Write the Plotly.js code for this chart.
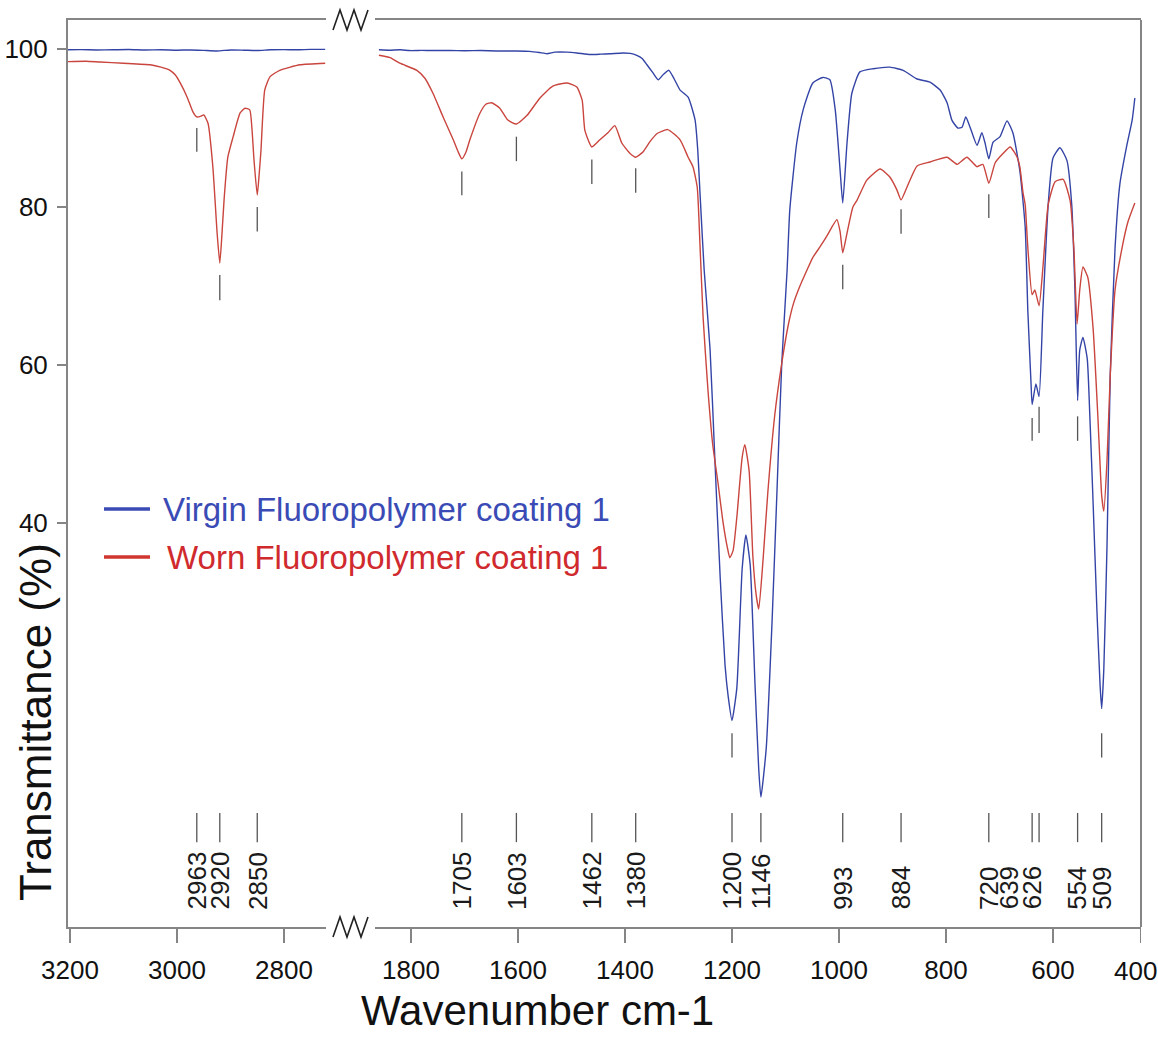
<!DOCTYPE html>
<html>
<head>
<meta charset="utf-8">
<script src="https://cdn.plot.ly/plotly-3.0.1.min.js"></script>
<style>
  html, body { margin: 0; padding: 0; background: #fff; }
  #chart { width: 1158px; height: 1043px; }
</style>
</head>
<body>
<div id="chart"></div>
<script>
// ---------------- DATA ----------------
// Left segment (3200 - 2720 cm-1)
const virginLeftWn = [3204, 3180, 3150, 3120, 3090, 3060, 3030, 3000, 2975, 2950, 2925, 2900, 2875, 2850, 2825, 2800, 2775, 2750, 2723];
const virginLeftT  = [99.9, 99.92, 99.88, 99.9, 99.93, 99.87, 99.9, 99.85, 99.88, 99.82, 99.75, 99.88, 99.85, 99.8, 99.9, 99.92, 99.9, 99.95, 99.95];

const wornLeftWn = [3204, 3170, 3144, 3100, 3050, 3030, 3013, 3003, 2994, 2981, 2970, 2963, 2955, 2950, 2942, 2933, 2925, 2920, 2916, 2912, 2905, 2895, 2882, 2873, 2864, 2860, 2856, 2850, 2846, 2843, 2836, 2826, 2808, 2770, 2723];
const wornLeftT  = [98.4, 98.45, 98.35, 98.2, 98.0, 97.7, 97.3, 96.7, 95.7, 93.9, 92.0, 91.4, 91.5, 91.65, 90.6, 85.1, 76.7, 72.9, 76.5, 80.9, 86.3, 88.9, 91.9, 92.5, 92.3, 90.0, 85.9, 81.5, 84.5, 87.2, 94.8, 96.5, 97.3, 98.0, 98.2];

// Right segment (1860 - 447 cm-1)
const virginRightWn = [1860, 1840, 1820, 1802, 1780, 1760, 1727, 1700, 1670, 1640, 1602, 1578, 1560, 1546, 1531, 1508, 1490, 1465, 1445, 1428, 1404, 1390, 1378, 1368, 1359, 1348, 1338, 1328, 1318, 1308, 1297, 1282, 1269, 1264, 1260, 1252, 1241, 1232, 1222, 1213, 1207, 1200, 1191, 1181, 1174, 1166, 1157, 1150, 1146, 1136, 1125, 1116, 1107, 1097, 1092, 1079, 1067, 1049, 1030, 1017, 1007, 998, 993, 985, 976, 961, 936, 905, 880, 854, 830, 811, 798, 789, 778, 770, 763, 755, 742, 733, 727, 720, 712, 699, 686, 675, 662, 652, 647, 641, 639, 632, 626, 619, 609, 600, 587, 574, 565, 559, 554, 550, 544, 536, 531, 525, 518, 512, 509, 505, 499, 493, 484, 475, 462, 452, 447];
const virginRightT  = [99.9, 99.85, 99.9, 99.8, 99.82, 99.8, 99.8, 99.78, 99.8, 99.75, 99.75, 99.7, 99.55, 99.4, 99.6, 99.6, 99.5, 99.3, 99.35, 99.4, 99.5, 99.45, 99.2, 98.8, 98.0, 97.0, 96.1, 96.8, 97.3, 96.2, 94.8, 93.9, 91.0, 87.2, 82.0, 72.0, 62.0, 48.0, 33.0, 22.0, 18.0, 15.0, 19.1, 34.2, 38.5, 34.7, 19.6, 8.8, 5.3, 11.5, 27.7, 43.9, 60.2, 72.0, 79.6, 88.1, 92.3, 95.7, 96.4, 96.1, 92.3, 84.7, 80.5, 88.1, 94.4, 97.1, 97.5, 97.7, 97.3, 96.2, 95.8, 94.8, 93.2, 91.0, 90.0, 90.1, 91.4, 90.1, 87.8, 89.4, 88.1, 86.1, 88.2, 88.9, 90.9, 89.4, 84.6, 77.5, 66.8, 57.6, 55.0, 57.6, 56.0, 66.8, 80.3, 86.2, 87.5, 85.9, 80.3, 69.5, 55.5, 61.9, 63.5, 60.8, 53.3, 42.5, 29.1, 19.5, 16.5, 21.5, 37.2, 58.7, 74.8, 82.9, 87.8, 91.0, 93.8];

const wornRightWn = [1860, 1839, 1821, 1789, 1774, 1759, 1740, 1721, 1712, 1705, 1697, 1690, 1671, 1660, 1649, 1634, 1619, 1603, 1583, 1559, 1535, 1508, 1490, 1480, 1475, 1462, 1447, 1432, 1419, 1406, 1391, 1380, 1366, 1353, 1340, 1320, 1297, 1282, 1273, 1265, 1260, 1254, 1245, 1236, 1226, 1217, 1209, 1204, 1198, 1191, 1181, 1176, 1168, 1161, 1155, 1150, 1142, 1133, 1120, 1107, 1095, 1085, 1073, 1060, 1049, 1035, 1022, 1012, 1004, 998, 993, 985, 974, 966, 948, 923, 905, 892, 884, 873, 854, 830, 798, 779, 761, 742, 731, 720, 708, 693, 680, 667, 662, 656, 652, 647, 639, 634, 626, 619, 609, 596, 581, 568, 561, 555, 550, 544, 535, 525, 516, 509, 505, 499, 493, 484, 471, 460, 447];
const wornRightT  = [99.2, 98.9, 98.2, 97.3, 96.3, 94.4, 91.4, 88.5, 87.0, 86.1, 87.0, 88.5, 91.9, 93.0, 93.2, 92.5, 91.0, 90.5, 91.6, 93.8, 95.3, 95.7, 95.2, 93.5, 89.7, 87.6, 88.5, 89.4, 90.3, 88.1, 86.8, 86.3, 87.0, 88.3, 89.3, 89.8, 88.5, 86.3, 85.1, 82.5, 75.5, 66.0, 56.9, 49.9, 45.0, 40.2, 37.0, 35.6, 36.5, 40.7, 48.3, 49.9, 46.6, 35.8, 31.0, 29.1, 35.3, 43.9, 53.7, 60.2, 65.0, 67.8, 70.0, 72.0, 73.6, 75.0, 76.4, 77.6, 78.4, 76.9, 74.2, 76.7, 80.0, 80.9, 83.4, 84.8, 83.8, 82.2, 80.9, 82.5, 85.2, 85.7, 86.3, 85.4, 86.3, 85.1, 85.4, 83.0, 85.6, 86.8, 87.6, 86.3, 85.1, 81.8, 80.3, 74.8, 68.9, 69.5, 67.5, 72.2, 80.3, 83.2, 83.5, 80.8, 74.8, 65.2, 69.5, 72.4, 71.1, 64.6, 53.3, 43.5, 41.5, 47.9, 58.7, 69.5, 74.8, 78.1, 80.5];

// Peak annotations
const peakWn          = [2963, 2920, 2850, 1705, 1603, 1462, 1380, 1200, 1146, 993, 884, 720, 639, 626, 554, 509];
const peakLabels      = ['2963', '2920', '2850', '1705', '1603', '1462', '1380', '1200', '1146', '993', '884', '720', '639', '626', '554', '509'];
const peakMarkTop     = [90.0, 71.4, 80.0, 84.5, 88.9, 86.0, 84.9, 13.4, null, 72.7, 79.7, 81.6, 53.3, 54.7, 53.5, 13.4];
const peakMarkBottom  = [87.0, 68.2, 76.9, 81.5, 85.8, 82.9, 81.8, 10.3, null, 69.6, 76.6, 78.6, 50.4, 51.4, 50.4, 10.3];

// Axis ticks
const leftTickVals  = [3200, 3000, 2800];
const rightTickVals = [1800, 1600, 1400, 1200, 1000, 800, 600, 436];
const rightTickText = ['1800', '1600', '1400', '1200', '1000', '800', '600', ''];
const lastTickLabel = '400';
const yTickVals     = [40, 60, 80, 100];

const seriesNames = ['Virgin Fluoropolymer coating 1', 'Worn Fluoropolymer coating 1'];

// ---------------- STYLE / LAYOUT ----------------
const FONT = 'Liberation Sans, Arial, sans-serif';
const BLUE = '#3444a6';
const RED = '#c9453e';
const AXIS = '#858585';
const MARK = '#555555';
const W = 1158, H = 1043, ML = 68, MR = 17, MT = 20, MB = 116;
const PW = W - ML - MR, PH = H - MT - MB;
const px = x => (x - ML) / PW;            // pixel -> paper x
const py = y => (H - MB - y) / PH;        // pixel -> paper y

const BASE_TOP = 3.3, BASE_BOTTOM = -0.4, LABEL_BASE = -9.2;
const labelShift = { '639': -23, '626': -7 };

function seg(isLeft) { return w => isLeft ? w > 2000 : w < 2000; }

function markerTrace(isLeft) {
  const xs = [], ys = [];
  peakWn.forEach((w, i) => {
    if (!seg(isLeft)(w)) return;
    if (peakMarkTop[i] !== null) { xs.push(w, w, null); ys.push(peakMarkTop[i], peakMarkBottom[i], null); }
    xs.push(w, w, null); ys.push(BASE_TOP, BASE_BOTTOM, null);
  });
  return { x: xs, y: ys, xaxis: isLeft ? 'x' : 'x2', yaxis: 'y', mode: 'lines',
           line: { color: MARK, width: 1.3 }, showlegend: false, hoverinfo: 'skip' };
}

const lineStyle = (c) => ({ color: c, width: 1.4, shape: 'spline', smoothing: 0.5 });

const traces = [
  { x: virginLeftWn, y: virginLeftT, xaxis: 'x', yaxis: 'y', mode: 'lines', line: lineStyle(BLUE), name: seriesNames[0], showlegend: false },
  { x: wornLeftWn, y: wornLeftT, xaxis: 'x', yaxis: 'y', mode: 'lines', line: lineStyle(RED), name: seriesNames[1], showlegend: false },
  { x: virginRightWn, y: virginRightT, xaxis: 'x2', yaxis: 'y', mode: 'lines', line: lineStyle(BLUE), name: seriesNames[0], showlegend: false },
  { x: wornRightWn, y: wornRightT, xaxis: 'x2', yaxis: 'y', mode: 'lines', line: lineStyle(RED), name: seriesNames[1], showlegend: false },
  markerTrace(true),
  markerTrace(false)
];

const annotations = [];
peakWn.forEach((w, i) => {
  annotations.push({
    x: w, y: LABEL_BASE, xref: w > 2000 ? 'x' : 'x2', yref: 'y',
    text: peakLabels[i], textangle: -90, showarrow: false,
    xanchor: 'center', yanchor: 'bottom', xshift: labelShift[peakLabels[i]] || 0,
    font: { family: FONT, size: 26, color: '#1a1a1a' }
  });
});
// last x tick label (placed inside the figure edge as in the original)
annotations.push({ x: px(1135), y: py(971), xref: 'paper', yref: 'paper', text: lastTickLabel,
  showarrow: false, xanchor: 'center', yanchor: 'middle', font: { family: FONT, size: 26, color: '#111' } });
// axis titles
annotations.push({ x: px(537), y: py(1011), xref: 'paper', yref: 'paper', text: 'Wavenumber cm-1', borderpad: 0,
  showarrow: false, xanchor: 'center', yanchor: 'middle', font: { family: FONT, size: 42, color: '#111' } });
annotations.push({ x: px(35), y: py(722), xref: 'paper', yref: 'paper', text: 'Transmittance (%)', textangle: -90,
  showarrow: false, xanchor: 'center', yanchor: 'middle', font: { family: FONT, size: 44, color: '#111' } });
// legend texts
annotations.push({ x: px(161), y: py(510), xref: 'paper', yref: 'paper', text: seriesNames[0],
  showarrow: false, xanchor: 'left', yanchor: 'middle', font: { family: FONT, size: 33, color: '#3a4bb5' } });
annotations.push({ x: px(165), y: py(557), xref: 'paper', yref: 'paper', text: seriesNames[1],
  showarrow: false, xanchor: 'left', yanchor: 'middle', font: { family: FONT, size: 33, color: '#d02a2e' } });

function zig(x0, yc) {
  const pts = [];
  for (let k = 0; k < 6; k++) {
    const x = x0 + k * 7;
    const y = (k % 2 === 0) ? yc + 10 : yc - 10;
    pts.push((k === 0 ? 'M' : 'L') + px(x).toFixed(5) + ',' + py(y).toFixed(5));
  }
  return pts.join(' ');
}

const shapes = [
  { type: 'line', xref: 'paper', yref: 'paper', x0: 1, x1: 1, y0: 0, y1: 1, line: { color: AXIS, width: 2 } },
  { type: 'path', xref: 'paper', yref: 'paper', path: zig(333, 20), line: { color: '#222', width: 1.6 } },
  { type: 'path', xref: 'paper', yref: 'paper', path: zig(333, 927), line: { color: '#222', width: 1.6 } },
  { type: 'line', xref: 'paper', yref: 'paper', x0: px(104), x1: px(150), y0: py(509), y1: py(509), line: { color: '#3a4bb5', width: 3.5 } },
  { type: 'line', xref: 'paper', yref: 'paper', x0: px(104), x1: px(150), y0: py(557), y1: py(557), line: { color: '#d0352f', width: 3.5 } }
];

const xCommon = {
  showline: true, mirror: true, linecolor: AXIS, linewidth: 2,
  ticks: 'outside', ticklen: 14, tickwidth: 1.5, tickcolor: AXIS,
  showgrid: false, zeroline: false, anchor: 'y', ticklabelstandoff: 5,
  tickfont: { family: FONT, size: 26, color: '#111' }, fixedrange: true
};

const layout = {
  width: W, height: H,
  margin: { l: ML, r: MR, t: MT, b: MB, pad: 0 },
  paper_bgcolor: '#fff', plot_bgcolor: '#fff',
  showlegend: false,
  xaxis: Object.assign({}, xCommon, { domain: [0, px(326)], range: [3203.7, 2721.5], tickmode: 'array', tickvals: leftTickVals, ticktext: leftTickVals.map(String) }),
  xaxis2: Object.assign({}, xCommon, { domain: [px(375), 1], range: [1867.3, 435.5], tickmode: 'array', tickvals: rightTickVals, ticktext: rightTickText }),
  yaxis: {
    range: [-11.14, 103.67], tickmode: 'array', tickvals: yTickVals, ticktext: yTickVals.map(String),
    showline: true, linecolor: AXIS, linewidth: 2, ticks: 'outside', ticklen: 9, tickwidth: 1.5, tickcolor: AXIS,
    showgrid: false, zeroline: false, anchor: 'x', ticklabelstandoff: 4,
    tickfont: { family: FONT, size: 26, color: '#111' }, fixedrange: true
  },
  annotations: annotations,
  shapes: shapes
};

Plotly.newPlot('chart', traces, layout, { staticPlot: true, displayModeBar: false });
</script>
</body>
</html>
